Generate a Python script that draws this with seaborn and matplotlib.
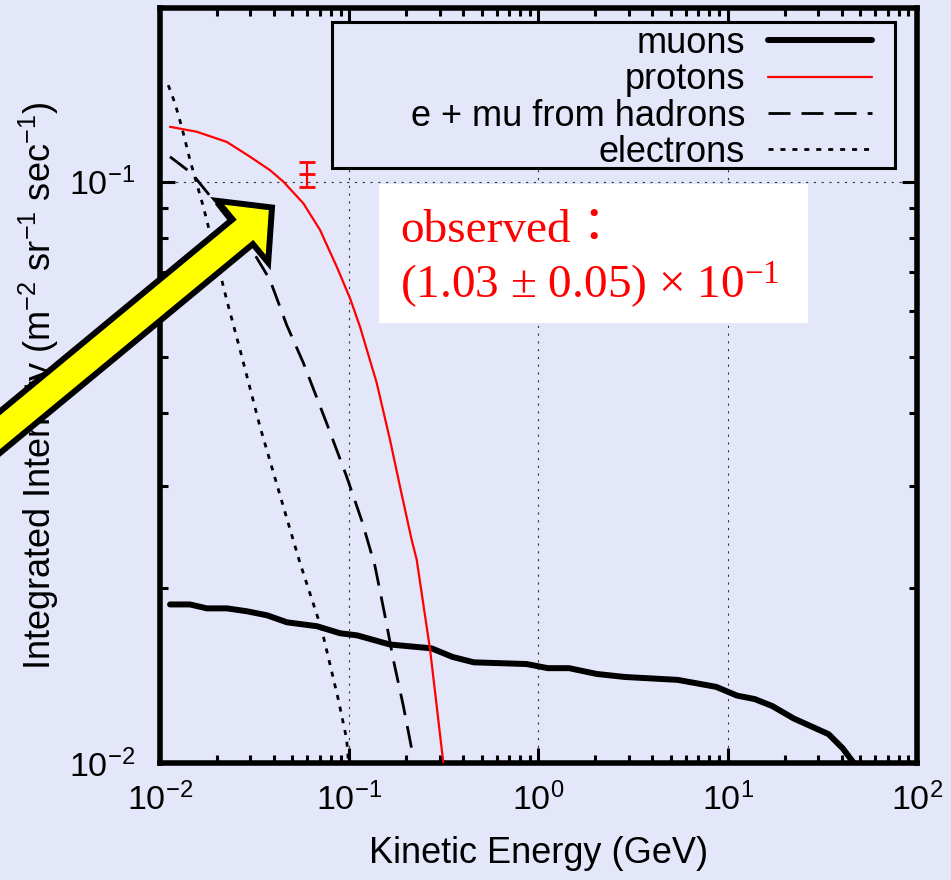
import numpy as np
import pandas as pd
import matplotlib
matplotlib.use("Agg")
import matplotlib.pyplot as plt
import seaborn as sns
from matplotlib.patches import Rectangle, FancyArrow
from matplotlib.ticker import FixedLocator, FixedFormatter, NullFormatter, LogLocator
from matplotlib.transforms import IdentityTransform

# ---------------- data ----------------
energy_muons = [0.0113, 0.0144, 0.0177, 0.0226, 0.0288, 0.0368, 0.0469, 0.0676, 0.0894,
                0.110, 0.164, 0.272, 0.352, 0.455, 0.865, 1.12, 1.45, 2.03, 2.86, 5.44,
                8.69, 11.2, 13.9, 17.2, 22.3, 34.1, 40.5, 46.0]
flux_muons = [0.01874, 0.01874, 0.01845, 0.01845, 0.01824, 0.01795, 0.01746, 0.01719, 0.01672,
              0.01658, 0.01599, 0.01575, 0.01522, 0.01490, 0.01480, 0.01456, 0.01456, 0.01423,
              0.01406, 0.01390, 0.01352, 0.01306, 0.01288, 0.01253, 0.01193, 0.01121, 0.01060,
              0.01003]

energy_protons = [0.01129, 0.01563, 0.02251, 0.02992, 0.0381, 0.0449, 0.0572, 0.0701, 0.0859,
                  0.1010, 0.1140, 0.1396, 0.1641, 0.1854, 0.2137, 0.2271, 0.2673, 0.2898, 0.314]
flux_protons = [0.1243, 0.1219, 0.1171, 0.1104, 0.1047, 0.1000, 0.0918, 0.0826, 0.0714,
                0.0630, 0.0563, 0.0451, 0.0360, 0.0299, 0.0242, 0.0224, 0.01568, 0.01253, 0.01002]

energy_hadronic = [0.01129, 0.01471, 0.01914, 0.02992, 0.0381, 0.0467, 0.0572, 0.0760, 0.0969,
                   0.1170, 0.1368, 0.1545, 0.1709, 0.1931, 0.2180]
flux_hadronic = [0.1104, 0.1034, 0.0930, 0.0773, 0.0678, 0.0567, 0.0488, 0.0384, 0.0311,
                 0.02600, 0.02181, 0.01791, 0.01507, 0.01254, 0.01023]

energy_electrons = [0.01106, 0.0120, 0.01302, 0.01440, 0.01694, 0.01916, 0.02252, 0.02648,
                    0.03376, 0.0448, 0.0549, 0.0715, 0.0875, 0.0969, 0.0991]
flux_electrons = [0.1466, 0.1364, 0.1243, 0.1090, 0.0906, 0.0773, 0.0626, 0.0514, 0.0379,
                  0.02765, 0.02210, 0.01698, 0.01287, 0.01099, 0.0100]

obs_energy = [0.0596]
obs_value = [0.103]
obs_error = [0.005]

series_labels = ["muons", "protons", "e + mu from hadrons", "electrons"]
x_ticks = [1e-2, 1e-1, 1e0, 1e1, 1e2]
x_tick_labels = ["10$^{-2}$", "10$^{-1}$", "10$^{0}$", "10$^{1}$", "10$^{2}$"]
y_ticks = [1e-2, 1e-1]
y_tick_labels = ["10$^{-2}$", "10$^{-1}$"]
x_title = "Kinetic Energy (GeV)"
y_title = "Integrated Intensity (m$^{-2}$ sr$^{-1}$ sec$^{-1}$)"
note_line1 = "observed："
note_line2 = "(1.03 ± 0.05) × 10$^{-1}$"

# ---------------- style ----------------
BG = "#E4E7FA"
sns.set_theme(style="ticks")
plt.rcParams.update({
    "axes.linewidth": 4.0,
    "axes.edgecolor": "black",
    "xtick.direction": "in", "ytick.direction": "in",
    "xtick.top": True, "ytick.right": True,
    "xtick.major.size": 10.8, "ytick.major.size": 10.8,
    "xtick.major.width": 2.2, "ytick.major.width": 2.2,
    "xtick.minor.size": 5.8, "ytick.minor.size": 5.8,
    "xtick.minor.width": 2.2, "ytick.minor.width": 2.2,
    "xtick.minor.visible": True, "ytick.minor.visible": True,
    "xtick.color": "black", "ytick.color": "black",
    "xtick.labelcolor": "black", "ytick.labelcolor": "black",
    "text.color": "black", "axes.labelcolor": "black",
    "mathtext.default": "regular",
})
plt.rcParams["font.family"] = ["Liberation Sans", "DejaVu Sans"]

fig = plt.figure(figsize=(9.51, 8.8), dpi=100, facecolor=BG)
ax = fig.add_axes([0.16824, 0.13295, 0.79600, 0.85795])
ax.set_facecolor(BG)
ax.set_xscale("log")
ax.set_yscale("log")

sns.lineplot(x=energy_muons, y=flux_muons, ax=ax, color="black", lw=4.3,
             estimator=None, legend=False, zorder=3)
sns.lineplot(x=energy_protons, y=flux_protons, ax=ax, color="#FF0000", lw=1.6,
             estimator=None, legend=False, zorder=3)
sns.lineplot(x=energy_hadronic, y=flux_hadronic, ax=ax, color="black", lw=2.0,
             linestyle=(0, (7.9, 4.0)), estimator=None, legend=False, zorder=3)
sns.lineplot(x=energy_electrons, y=flux_electrons, ax=ax, color="black", lw=2.0,
             linestyle=(0, (1.8, 2.5)), estimator=None, legend=False, zorder=3)
handles = list(ax.lines[:4])

ax.errorbar(obs_energy, obs_value, yerr=obs_error, fmt="_", color="#FF0000", ms=12,
            mew=2.0, elinewidth=1.6, capsize=6, capthick=2.0, zorder=3)

ax.set_xlim(1e-2, 1e2)
ax.set_ylim(1e-2, 0.199)

ax.xaxis.set_major_locator(FixedLocator(x_ticks))
ax.xaxis.set_major_formatter(FixedFormatter(x_tick_labels))
ax.yaxis.set_major_locator(FixedLocator(y_ticks))
ax.yaxis.set_major_formatter(FixedFormatter(y_tick_labels))
ax.xaxis.set_minor_locator(LogLocator(base=10, subs=np.arange(2, 10), numticks=100))
ax.yaxis.set_minor_locator(LogLocator(base=10, subs=np.arange(2, 10), numticks=100))
ax.xaxis.set_minor_formatter(NullFormatter())
ax.yaxis.set_minor_formatter(NullFormatter())
ax.tick_params(axis="x", which="major", labelsize=24.5, pad=14)
ax.tick_params(axis="y", which="major", labelsize=24.5, pad=18)

ax.set_axisbelow(True)
ax.grid(True, which="major", color="#333333", lw=0.8, linestyle=(0, (2, 5)))
ax.grid(False, which="minor")

ax.set_xlabel(x_title, fontsize=26, labelpad=14)
ax.set_ylabel(y_title, fontsize=26, labelpad=6)

# legend frame (drawn as its own box) and legend entries
ax.add_patch(Rectangle((0.2272, 0.7881), 0.7437, 0.1934, transform=ax.transAxes,
                       facecolor=BG, edgecolor="black", lw=2.2, zorder=4))
ax.legend(handles, series_labels, loc="upper right", bbox_to_anchor=(0.9406, 0.976),
          frameon=False, markerfirst=False, fontsize=26, handlelength=2.88,
          handletextpad=0.64, labelspacing=0.035, borderpad=0, borderaxespad=0)

# observed-value note
ax.add_patch(Rectangle((0.2893, 0.583), 0.5667, 0.184, transform=ax.transAxes,
                       facecolor="white", edgecolor="none", zorder=4))
ax.text(0.317, 0.690, note_line1, transform=ax.transAxes, color="#FF0000", fontsize=34,
        family=["Liberation Serif", "Noto Sans CJK JP"], va="baseline", zorder=5)
ax.text(0.317, 0.616, note_line2, transform=ax.transAxes, color="#FF0000", fontsize=34,
        family=["Liberation Serif"], va="baseline", zorder=5)

# big yellow arrow (figure pixel coordinates, origin bottom-left)
arrow = FancyArrow(-33.4, 420.2, 305.4, 252.3, width=32, head_width=80, head_length=38,
                   length_includes_head=True, facecolor="#FFFF00", edgecolor="black",
                   linewidth=4.3, joinstyle="miter", transform=IdentityTransform(), zorder=20)
fig.add_artist(arrow)

fig.savefig("out.png", dpi=100, facecolor=BG)
